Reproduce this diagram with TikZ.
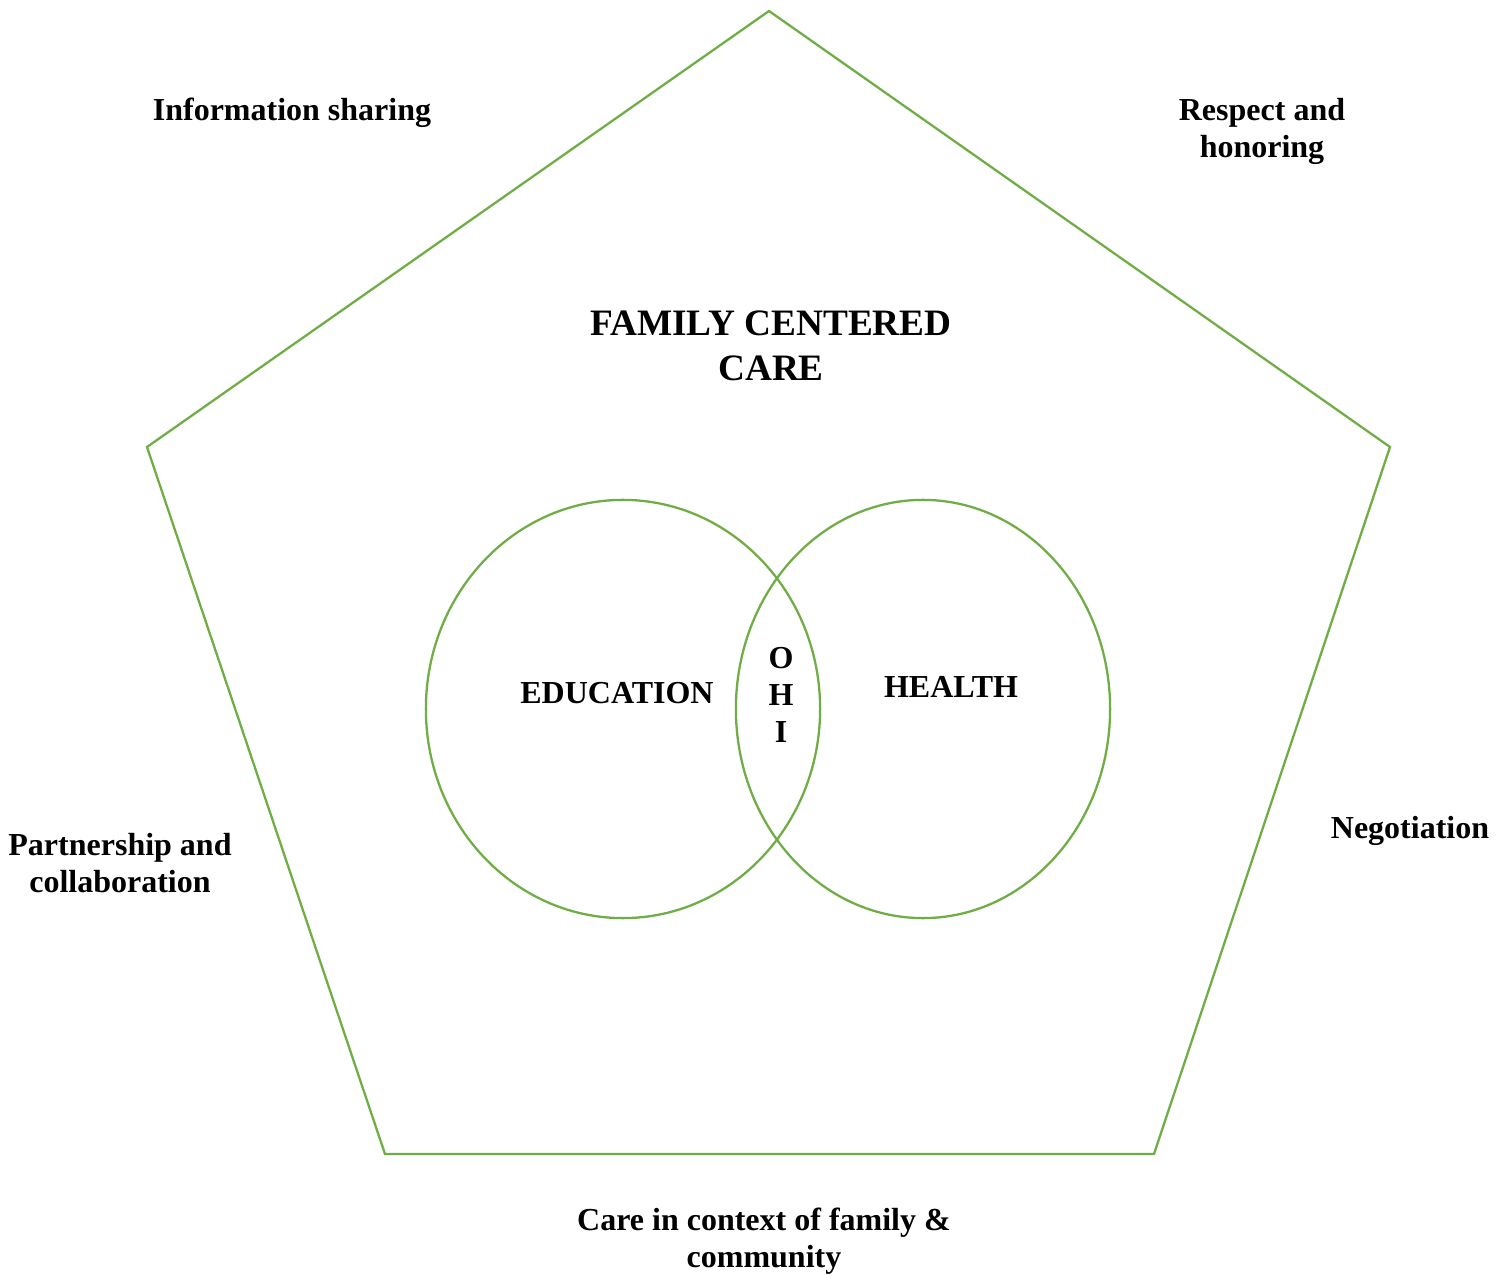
\documentclass[tikz,border=0pt]{standalone}
\usepackage{fontspec}
\setmainfont{Liberation Serif}
\usetikzlibrary{positioning,shapes.geometric}
\definecolor{fccgreen}{RGB}{112,173,71}
\tikzset{
  rim/.style={draw=fccgreen,line width=0.65pt},
  lbl/.style={font=\bfseries\fontsize{9.1pt}{10.5pt}\selectfont,align=center,inner sep=0pt},
  ttl/.style={font=\bfseries\fontsize{10.6pt}{12.8pt}\selectfont,align=center,inner sep=0pt}
}

\begin{document}
\begin{tikzpicture}[x=0.01cm,y=-0.01cm]
        \useasboundingbox (0,0) rectangle (1511,1276);
        % pentagon corners
        \coordinate (top) at (769,11);
        \coordinate (rgt) at (1390,447);
        \coordinate (brt) at (1154,1154);
        \coordinate (blf) at (385,1154);
        \coordinate (lft) at (147,447);
        \draw[rim] (top) -- (rgt) -- (brt) -- (blf) -- (lft) -- cycle;
        % the two circles
        \node[rim,ellipse,minimum width=3.94cm,minimum height=4.18cm,inner sep=0pt] (edu) at (623,709) {};
        \node[rim,ellipse,minimum width=3.74cm,minimum height=4.18cm,inner sep=0pt] (hlt) at (923,709) {};
        % texts
        \node[ttl] (fcc) at (771,346) {FAMILY CENTERED\\CARE};
        \node[lbl] (edutxt) at (617,693) {EDUCATION};
        \node[lbl] (hlttxt) at (951,687) {HEALTH};
        \node[lbl] (ohi) at (781,695) {O\\H\\I};
        \node[lbl] (info) at (292,113) {Information sharing};
        \node[lbl] (resp) at (1262,131) {Respect and\\honoring};
        \node[lbl] (part) at (120,863) {Partnership and\\collaboration};
        \node[lbl] (nego) at (1410,831) {Negotiation};
        \node[lbl] (ctx) at (764,1241) {Care in context of family \&\\community};
    \end{tikzpicture}
\end{document}
